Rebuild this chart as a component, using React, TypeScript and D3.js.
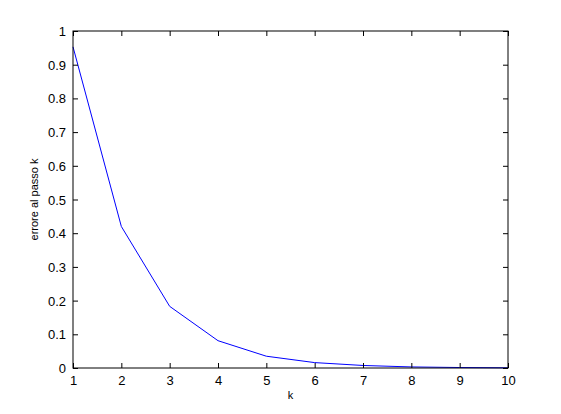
import * as d3 from "d3";
import { useRef, useEffect } from "react";

// values
const steps = [1, 2, 3, 4, 5, 6, 7, 8, 9, 10];
const errors = [0.953, 0.42, 0.183, 0.081, 0.035, 0.016, 0.0075, 0.0032, 0.0014, 0.0006];
const xTicks = [1, 2, 3, 4, 5, 6, 7, 8, 9, 10];
const yTicks = [0, 0.1, 0.2, 0.3, 0.4, 0.5, 0.6, 0.7, 0.8, 0.9, 1];

export default function App() {
  const svgRef = useRef<SVGSVGElement>(null);

  useEffect(() => {
    const svg = d3.select(svgRef.current);
    svg.selectAll("*").remove();

    const left = 73, right = 508, top = 31, bottom = 368;
    const x = d3.scaleLinear().domain([1, 10]).range([left, right]);
    const y = d3.scaleLinear().domain([0, 1]).range([bottom, top]);
    const font = "Helvetica, Arial, 'Liberation Sans', sans-serif";

    svg.append("rect").attr("width", 561).attr("height", 414).attr("fill", "#fff");

    // data line
    const line = d3.line<number>().x((_, i) => x(steps[i])).y(d => y(d));
    svg.append("path").datum(errors).attr("d", line).attr("fill", "none")
      .attr("stroke", "#0000ff").attr("stroke-width", 1);

    const tl = 5;
    // bottom axis (ticks inward), also top ticks
    const xa = d3.axisBottom(x).tickValues(xTicks).tickSizeInner(-tl).tickSizeOuter(0)
      .tickPadding(8).tickFormat(d3.format("d"));
    const gx = svg.append("g").attr("transform", `translate(0,${bottom})`).call(xa);
    const xt = d3.axisTop(x).tickValues(xTicks).tickSizeInner(-tl).tickSizeOuter(0).tickFormat(() => "");
    const gxt = svg.append("g").attr("transform", `translate(0,${top})`).call(xt);

    const ya = d3.axisLeft(y).tickValues(yTicks).tickSizeInner(-tl).tickSizeOuter(0)
      .tickPadding(7).tickFormat(d => String(+d));
    const gy = svg.append("g").attr("transform", `translate(${left},0)`).call(ya);
    const yr = d3.axisRight(y).tickValues(yTicks).tickSizeInner(-tl).tickSizeOuter(0).tickFormat(() => "");
    const gyr = svg.append("g").attr("transform", `translate(${right},0)`).call(yr);

    [gx, gxt, gy, gyr].forEach(g => {
      g.select(".domain").remove();
      g.selectAll("line").attr("stroke", "#000");
      g.selectAll("text").attr("font-family", font).attr("font-size", 13).attr("fill", "#000");
    });
    gx.selectAll("text").attr("dy", "0.71em");
    gy.selectAll("text").attr("dy", "0.35em");

    // box
    svg.append("rect").attr("x", left).attr("y", top).attr("width", right - left)
      .attr("height", bottom - top).attr("fill", "none").attr("stroke", "#000").attr("stroke-width", 1);

    // labels
    svg.append("text").attr("x", (left + right) / 2).attr("y", 399).attr("text-anchor", "middle")
      .attr("font-family", font).attr("font-size", 11).text("k");
    svg.append("text").attr("transform", `translate(38,${(top + bottom) / 2}) rotate(-90)`)
      .attr("text-anchor", "middle").attr("font-family", font).attr("font-size", 11)
      .text("errore al passo k");
  }, []);

  return (
    <svg ref={svgRef} width={561} height={414}
      style={{ position: "absolute", left: 0, top: 0, display: "block" }} />
  );
}
